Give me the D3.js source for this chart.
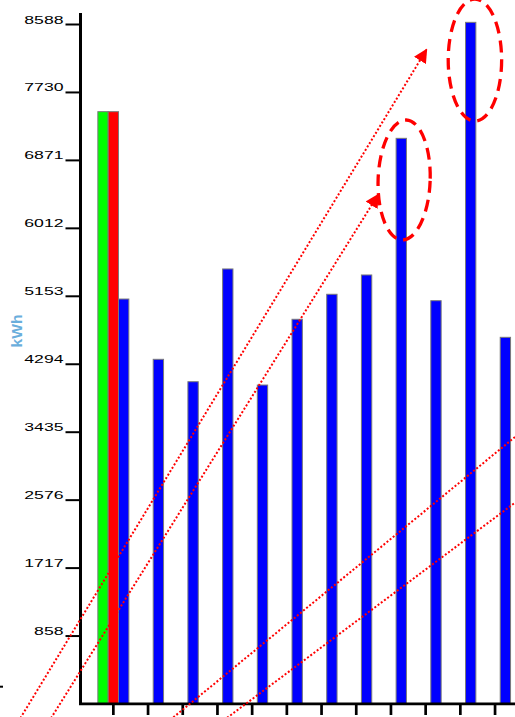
<!DOCTYPE html>
<html>
<head>
<meta charset="utf-8">
<script src="https://cdn.jsdelivr.net/npm/d3@7"></script>
<style>
  html, body { margin: 0; padding: 0; background: #fff; }
  svg { display: block; }
</style>
</head>
<body>
<svg id="chart" width="515" height="717"></svg>
<script>
// Monthly energy use (kWh): two reference bars in the first slot, then one bar per period
const categories = ["1", "2", "3", "4", "5", "6", "7", "8", "9", "10", "11", "12"];
const seriesKeys = ["green", "red", "blue"];
const greenValues = [7480, null, null, null, null, null, null, null, null, null, null, null];
const redValues   = [7480, null, null, null, null, null, null, null, null, null, null, null];
const blueValues  = [5112, 4350, 4067, 5492, 4025, 4856, 5172, 5416, 7143, 5091, 8609, 4628];
const seriesColors = { green: "#00ff00", red: "#ff0000", blue: "#0000ff" };

const yTickValues = [858.8, 1717.6, 2576.4, 3435.2, 4294, 5152.8, 6011.6, 6870.4, 7729.2, 8588];
const yTickLabels = ["858", "1717", "2576", "3435", "4294", "5153", "6012", "6871", "7730", "8588"];
const yAxisTitle = "kWh";

// Trend annotations, given as [category index, kWh]
const trendLines = [
  { from: [-2.80, -272], to: [9.03, 8268], arrow: true },
  { from: [-1.92, -272], to: [7.64, 6436], arrow: true },
  { from: [1.46, -272],  to: [12.0, 3521], arrow: false },
  { from: [3.00, -272],  to: [12.0, 2677], arrow: false }
];
// Highlight rings around the peak months: centre [index, kWh], radii in index / kWh units
const highlightRings = [
  { center: [8.38, 6617],  rx: 0.75, ry: 758, tilt: 2 },
  { center: [10.42, 8133], rx: 0.77, ry: 771, tilt: 0 }
];

const svg = d3.select("#chart");

const y = d3.scaleLinear().domain([0, 8588]).range([703.5, 24]);
const x = d3.scaleBand().domain(categories).range([96, 512.4]).padding(0);
const bw = x.bandwidth();
const xSub = d3.scaleBand().domain(seriesKeys).range([(bw - 31) / 2, (bw + 31) / 2]);
const xIdx = d3.scaleLinear().domain([0, 1])
  .range([x(categories[0]) + bw / 2, x(categories[1]) + bw / 2]);

const valuesByKey = { green: greenValues, red: redValues, blue: blueValues };
const barData = [];
seriesKeys.forEach(k => {
  valuesByKey[k].forEach((v, i) => {
    if (v != null) barData.push({ key: k, cat: categories[i], value: v });
  });
});

// Bars
svg.append("g").selectAll("rect").data(barData).join("rect")
  .attr("x", d => x(d.cat) + xSub(d.key))
  .attr("width", xSub.bandwidth())
  .attr("y", d => y(d.value))
  .attr("height", d => y(0) - y(d.value))
  .attr("fill", d => seriesColors[d.key])
  .attr("stroke", "#7a7a7a")
  .attr("stroke-width", 1);

// Y axis
const yAxisX = 80.5;
const yAxis = svg.append("g").attr("transform", `translate(${yAxisX},0)`)
  .call(d3.axisLeft(y).tickValues(yTickValues)
    .tickFormat((d, i) => yTickLabels[i]).tickSize(15).tickPadding(2).tickSizeOuter(0));
yAxis.select(".domain").remove();
yAxis.selectAll(".tick line").attr("stroke", "#000").attr("stroke-width", 2);
yAxis.selectAll(".tick text")
  .attr("dy", -1)
  .attr("fill", "#000")
  .style("font-family", "'Liberation Sans', Arial, sans-serif")
  .style("font-size", "11.5px")
  .attr("textLength", d => 9.8 * yTickLabels[yTickValues.indexOf(d)].length)
  .attr("lengthAdjust", "spacingAndGlyphs");
svg.append("line")
  .attr("x1", yAxisX).attr("x2", yAxisX)
  .attr("y1", 13).attr("y2", y(0) + 1.5)
  .attr("stroke", "#000").attr("stroke-width", 3);

// X axis
const xAxis = svg.append("g").attr("transform", `translate(0,${y(0) + 0.5})`)
  .call(d3.axisBottom(x).tickFormat("").tickSize(11).tickSizeOuter(0));
xAxis.select(".domain").remove();
xAxis.selectAll(".tick line").attr("stroke", "#000").attr("stroke-width", 2.7);
svg.append("line")
  .attr("x1", yAxisX - 1.5).attr("x2", 515)
  .attr("y1", y(0) + 0.3).attr("y2", y(0) + 0.3)
  .attr("stroke", "#000").attr("stroke-width", 2.7);

// Small stray tick at the left edge
svg.append("line")
  .attr("x1", 0).attr("x2", 3)
  .attr("y1", 686.7).attr("y2", 686.7)
  .attr("stroke", "#000").attr("stroke-width", 2);

// Axis title
svg.append("text")
  .attr("transform", "translate(21.5,331) rotate(-90)")
  .attr("text-anchor", "middle")
  .attr("fill", "#6aaedc")
  .style("font-family", "'Liberation Sans', Arial, sans-serif")
  .style("font-size", "15px")
  .style("font-weight", "bold")
  .attr("textLength", 33)
  .attr("lengthAdjust", "spacingAndGlyphs")
  .text(yAxisTitle);

// Arrowhead marker
svg.append("defs").append("marker")
  .attr("id", "arrowHead")
  .attr("markerUnits", "userSpaceOnUse")
  .attr("viewBox", "0 0 14 14")
  .attr("markerWidth", 14).attr("markerHeight", 14)
  .attr("refX", 13).attr("refY", 7)
  .attr("orient", "auto")
  .append("path").attr("d", "M0,0L14,7L0,14Z").attr("fill", "#ff0000");

// Dotted trend lines
svg.append("g").selectAll("line").data(trendLines).join("line")
  .attr("x1", d => xIdx(d.from[0])).attr("y1", d => y(d.from[1]))
  .attr("x2", d => xIdx(d.to[0])).attr("y2", d => y(d.to[1]))
  .attr("stroke", "#ff0000")
  .attr("stroke-width", 2)
  .attr("stroke-dasharray", "2 2")
  .attr("marker-end", d => d.arrow ? "url(#arrowHead)" : null);

// Dashed highlight rings
svg.append("g").selectAll("ellipse").data(highlightRings).join("ellipse")
  .attr("cx", d => xIdx(d.center[0]))
  .attr("cy", d => y(d.center[1]))
  .attr("rx", d => xIdx(d.center[0] + d.rx) - xIdx(d.center[0]))
  .attr("ry", d => y(d.center[1] - d.ry) - y(d.center[1]))
  .attr("transform", d => `rotate(${d.tilt},${xIdx(d.center[0])},${y(d.center[1])})`)
  .attr("fill", "none")
  .attr("stroke", "#ff0000")
  .attr("stroke-width", 3.3)
  .attr("stroke-dasharray", "12 7");
</script>
</body>
</html>
